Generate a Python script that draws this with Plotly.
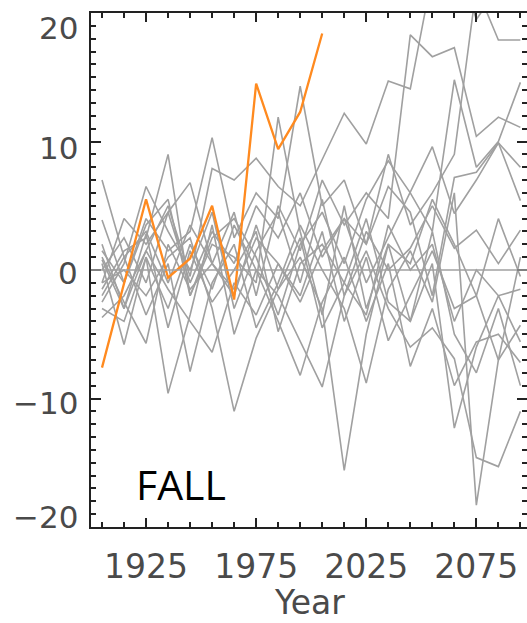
import plotly.graph_objects as go

# ---------------- data ----------------
years = [1905, 1915, 1925, 1935, 1945, 1955, 1965, 1975, 1985, 1995,
         2005, 2015, 2025, 2035, 2045, 2055, 2065, 2075, 2085, 2095]

obs_years = [1905, 1915, 1925, 1935, 1945, 1955, 1965, 1975, 1985, 1995, 2005]
obs_values = [-7.6, -1.0, 5.5, -0.6, 0.9, 5.0, -2.3, 14.5, 9.4, 12.3, 18.4]

s01 = [7.0, 1.0, 3.0, -1.0, 3.5, 0.5, -1.5, 2.5, 0.5, -2.5, 1.5, 4.0, -1.0, 2.5, 6.0, 9.6, 4.4, 7.0, 9.9, 8.0]
s02 = [3.9, -1.0, 3.5, 5.5, -2.0, 2.5, 4.0, 1.0, -3.5, 2.0, 4.5, 0.5, 5.5, 8.5, 6.0, 3.0, 14.8, 8.0, 10.0, 14.6]
s03 = [-3.7, -2.0, 1.5, -1.5, -4.0, -6.4, -1.0, -3.5, 0.5, -2.0, 3.0, -4.0, 1.0, -5.5, -2.0, 1.5, -3.0, -2.0, -7.0, -4.3]
s04 = [-1.0, 4.0, 2.0, 4.5, -1.0, 3.0, 0.5, 5.0, 2.5, 6.0, 1.0, 4.0, 2.0, 6.5, 4.5, -2.0, 7.2, 7.6, 9.9, 5.4]
s05 = [0.5, -5.8, 1.0, -3.0, 2.0, -1.5, 3.5, 0.0, -4.0, -8.2, -2.5, 1.0, -4.0, 0.5, -7.5, -3.0, -9.0, -5.6, -5.0, -7.2]
s06 = [-2.5, 0.5, 6.5, 3.0, 0.0, 4.5, -3.0, 1.5, 4.5, -1.0, 5.5, -2.0, 3.0, 0.0, 1.7, 5.0, 1.7, 3.1, 0.5, 3.1]
s07 = [1.0, -2.5, -5.7, 2.0, -1.5, 0.5, -2.0, 3.5, -1.5, 2.5, -4.5, -1.0, 4.0, -2.5, -4.0, 0.5, -12.3, -6.0, -2.0, -5.6]
s08 = [-1.5, 1.5, 2.5, 9.0, -2.0, 2.0, 1.0, -1.0, 11.9, 3.0, -3.5, 5.0, -3.0, 2.0, 0.5, 5.5, 2.0, -2.0, 4.0, -0.5]
s09 = [-3.0, -4.0, 1.0, -9.6, -3.5, 3.5, -5.0, 0.0, -2.0, -5.5, -9.1, -2.0, 1.5, -3.0, -6.0, -4.5, -6.9, -14.6, -15.3, -11.0]
s10 = [0.0, 2.5, -1.0, 4.5, 6.8, 0.5, 4.5, -2.0, 5.0, 1.5, 7.0, 3.5, 6.0, 4.0, 18.3, 16.6, 17.3, 10.4, 11.9, 11.1]
s11 = [-2.0, 1.0, -3.5, 0.5, -7.9, -1.0, 2.0, -4.5, -1.0, 3.5, 0.0, -3.0, -8.8, -1.5, 1.5, -2.5, 6.0, -18.3, -7.0, 1.0]
s12 = [1.5, -1.0, 4.0, 1.5, 3.0, 10.3, 2.5, 6.0, 4.0, 14.3, 5.0, 7.0, 2.0, 9.0, 3.5, 6.0, 9.0, 22.0, 17.9, 17.9]
s13 = [2.0, -3.0, 1.5, 5.0, -0.5, 7.9, 7.0, 8.7, 6.5, 5.0, 8.6, 12.2, 9.8, 14.7, 14.1, 23.0, 25.0, 19.5, 22.0, 24.0]
s14 = [-1.0, 0.0, -2.0, 1.0, 2.5, -3.0, -11.0, -5.3, -1.5, 1.0, -3.0, -15.6, -5.0, 2.0, -4.0, 3.0, -5.0, -8.0, -3.0, -9.0]
s15 = [0.8, -3.0, 2.8, -4.5, 1.5, -2.5, 0.0, 3.0, -4.8, 0.5, 2.0, -1.0, -3.5, 3.5, 0.0, 2.0, -4.0, 0.0, -2.0, -1.5]
gray_series = [s01, s02, s03, s04, s05, s06, s07, s08, s09, s10, s11, s12, s13, s14, s15]

y_ticks = [20, 10, 0, -10, -20]
y_label_down = [15, 6, 3, 4, -10]   # label offset below its tick, px
x_ticks = [1925, 1975, 2025, 2075]
x_range = [1900, 2098]
y_range = [-20, 20]
x_title = "Year"
panel_label = "FALL"

GRAY = "#a0a0a0"
ORANGE = "#ff8a1f"
AXIS = "#222222"
TXT = "#4a4a4a"
YFONT = dict(family="DejaVu Sans", size=31, color=TXT)
XFONT = dict(family="DejaVu Sans", size=33, color=TXT)

fig = go.Figure()
for s in gray_series:
    fig.add_trace(go.Scatter(x=years, y=s, mode="lines",
                             line=dict(color=GRAY, width=1.6),
                             showlegend=False, hoverinfo="skip"))
fig.add_hline(y=0, line=dict(color=GRAY, width=1.6))
fig.add_trace(go.Scatter(x=obs_years, y=obs_values, mode="lines",
                         line=dict(color=ORANGE, width=2.3),
                         showlegend=False, hoverinfo="skip"))

for v, d in zip(y_ticks, y_label_down):
    fig.add_annotation(x=0, xref="paper", y=v, yref="y", text=f"{v:d}".replace("-", "\u2212"),
                       showarrow=False, xanchor="right", yanchor="middle",
                       xshift=-11, yshift=-d, font=YFONT)

fig.add_annotation(x=0.5, xref="paper", y=-0.1865, yref="paper", text=x_title,
                   showarrow=False, xanchor="center", yanchor="bottom", borderpad=0,
                   font=XFONT)

fig.add_annotation(x=0.2064, xref="paper", y=0.0837, yref="paper", text=panel_label,
                   showarrow=False, xanchor="center", yanchor="middle",
                   font=dict(family="Open Sans", size=41, color="black"))

fig.update_layout(
    width=527, height=623,
    margin=dict(l=91, r=0, t=13, b=96, pad=0, autoexpand=False),
    paper_bgcolor="white", plot_bgcolor="white",
    xaxis=dict(range=x_range, showgrid=False, zeroline=False, automargin=False,
               tickmode="array", tickvals=x_ticks, ticktext=[str(t) for t in x_ticks],
               ticks="inside", ticklen=9, tickwidth=2, tickcolor=AXIS,
               minor=dict(tickmode="linear", tick0=1905, dtick=10, ticks="inside", ticklen=5,
                          tickwidth=1.5, tickcolor=AXIS, showgrid=False),
               showline=True, linecolor=AXIS, linewidth=2, mirror="ticks",
               tickfont=XFONT, ticklabelstandoff=9),
    yaxis=dict(range=y_range, showgrid=False, zeroline=False, automargin=False,
               tickmode="linear", tick0=0, dtick=10, showticklabels=False,
               ticks="inside", ticklen=10, tickwidth=2, tickcolor=AXIS,
               minor=dict(tickmode="linear", tick0=0, dtick=1, ticks="inside", ticklen=5,
                          tickwidth=1.5, tickcolor=AXIS, showgrid=False),
               showline=True, linecolor=AXIS, linewidth=2, mirror="ticks"),
)

fig.write_html("out.html", config={"displayModeBar": False},
               post_script="document.body.style.margin='0px';document.body.style.overflow='hidden';")
